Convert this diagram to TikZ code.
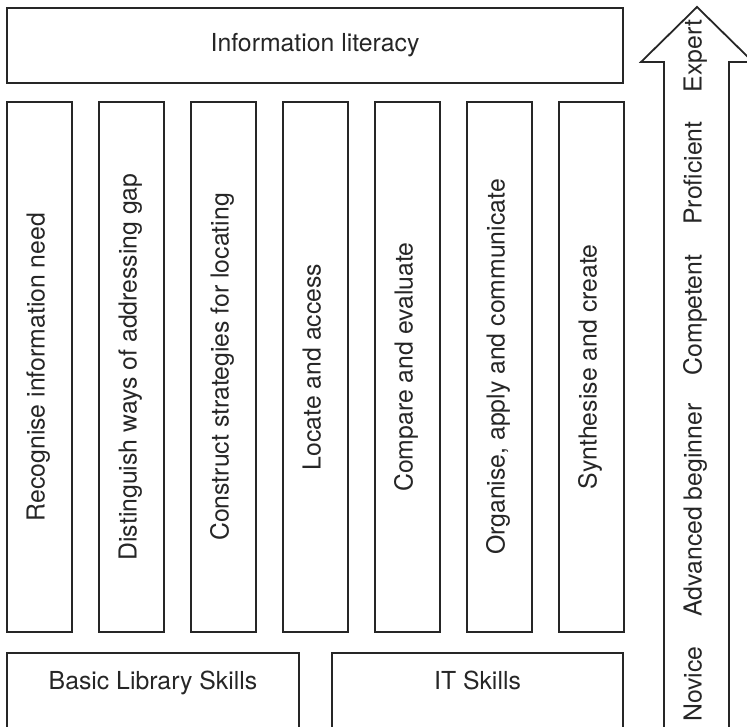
\documentclass[tikz,border=0pt]{standalone}
\usepackage{fontspec}
\setmainfont{TeX Gyre Heros}

\begin{document}
\begin{tikzpicture}[x=0.5pt,y=-0.5pt,
    every node/.style={font=\fontsize{12.4}{15}\selectfont,text=black!85},
    box/.style={draw=black!85,line width=0.9pt},
    band/.style={box,minimum width=308pt,minimum height=37.5pt,inner sep=0pt},
    pillar/.style={box,rotate=90,minimum width=265pt,minimum height=32.5pt,inner sep=0pt,text height=0.75em,text depth=0.25em},
    base/.style={box,anchor=north,inner sep=0pt,text height=18.5pt,text depth=20.5pt},
    level/.style={rotate=90,inner sep=0pt,text height=0.75em,text depth=0.25em}
  ]
    \useasboundingbox (0,0) rectangle (747,726);
    \clip (0,0) rectangle (747,726);

    % Top band
    \node[band] (lit) at (315,45.5) {Information literacy};

    % Seven pillars
    \foreach \i/\t in {1/Recognise information need,2/Distinguish ways of addressing gap,3/Construct strategies for locating,4/Locate and access,5/Compare and evaluate,6/{Organise, apply and communicate},7/Synthesise and create} {
      \node[pillar] (p\i) at ({39.5+92*(\i-1)},367) {\t};
    }

    % Foundations
    \node[base,minimum width=146pt] (lib) at (153,652) {Basic Library Skills};
    \node[base,minimum width=145.5pt] (it) at (477.5,652) {IT Skills};

    % Progression arrow
    \draw[box,line join=miter] (664,740) -- (664,62) -- (641,62) -- (697,7) -- (753,62) -- (729,62) -- (729,740);
    \foreach \n/\y/\t in {1/684/Novice,2/510/Advanced beginner,3/315/Competent,4/173/Proficient,5/56/Expert} {
      \node[level] (lv\n) at (696.5,\y) {\t};
    }
  \end{tikzpicture}
\end{document}
